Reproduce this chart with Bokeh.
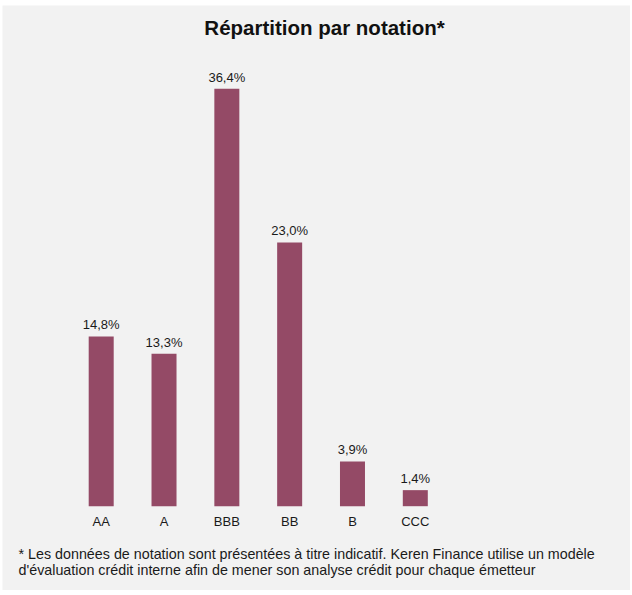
from bokeh.plotting import figure
from bokeh.models import ColumnDataSource, Range1d, Label
from bokeh.embed import file_html
from bokeh.resources import INLINE
from bokeh.core.properties import value

categories = ["AA", "A", "BBB", "BB", "B", "CCC"]
values = [14.8, 13.3, 36.4, 23.0, 3.9, 1.4]
title_text = "Répartition par notation*"
footnote_lines = [
    "* Les données de notation sont présentées à titre indicatif. Keren Finance utilise un modèle",
    "d'évaluation crédit interne afin de mener son analyse crédit pour chaque émetteur",
]

FONT = "Liberation Sans"
BG = "#f2f2f2"
BAR = "#944a66"
TXT = "#1a1a1a"

# layout (page pixels)
W, H = 630, 590
LEFT, TOP = 2, 5
X0_PX = 100.7      # centre of first bar
STEP_PX = 62.82    # distance between bars
BASE_PX = 505.7    # bar baseline
PX_PER_UNIT = 11.467

x_start = -(X0_PX - LEFT) / STEP_PX
x_end = x_start + (W - LEFT) / STEP_PX
y_start = -(H - BASE_PX) / PX_PER_UNIT
y_end = (BASE_PX - TOP) / PX_PER_UNIT


def px_x(px):
    return (px - X0_PX) / STEP_PX


def px_y(py):
    return (BASE_PX - py) / PX_PER_UNIT


idx = list(range(len(categories)))
labels = [("%.1f" % v).replace(".", ",") + "%" for v in values]
src = ColumnDataSource(dict(x=idx, top=values, cat=categories, lab=labels, zero=[0] * len(values)))

p = figure(width=W, height=H, output_backend="svg", toolbar_location=None,
           x_range=Range1d(x_start, x_end), y_range=Range1d(y_start, y_end),
           min_border_left=LEFT, min_border_top=TOP, min_border_right=0, min_border_bottom=0)
p.axis.visible = False
p.grid.visible = False
p.outline_line_color = None
p.background_fill_color = BG
p.border_fill_color = "white"

p.vbar(x="x", top="top", bottom=0, width=0.398, source=src, fill_color=BAR, line_color=None)

p.text(x="x", y="top", text="lab", source=src, text_align="center", text_baseline="middle",
       y_offset=-11.5, text_font=value(FONT), text_font_size="13px", text_color=TXT)
p.text(x="x", y="zero", text="cat", source=src, text_align="center", text_baseline="middle",
       y_offset=15.5, text_font=value(FONT), text_font_size="13px", text_color=TXT)

p.add_layout(Label(x=px_x(324), y=px_y(26.5), text=title_text,
                   text_align="center", text_baseline="middle", text_font=FONT,
                   text_font_size="20.5px", text_font_style="bold", text_color="#111111"))
for i, line in enumerate(footnote_lines):
    p.add_layout(Label(x=px_x(18), y=px_y(553 + 16 * i), text=line,
                       text_align="left", text_baseline="middle", text_font=FONT,
                       text_font_size="14.3px", text_color=TXT))

open("out.html", "w").write(file_html(p, INLINE))
